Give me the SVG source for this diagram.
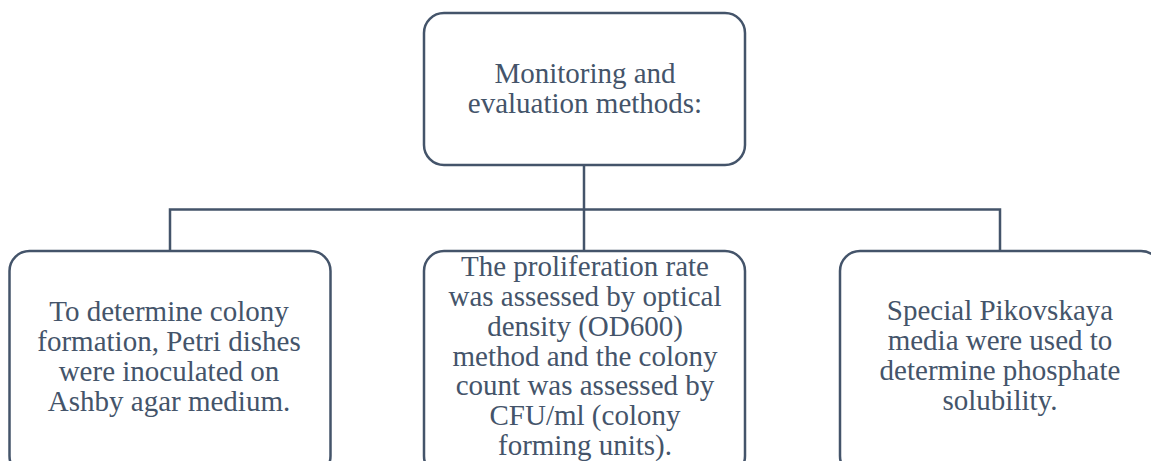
<svg xmlns="http://www.w3.org/2000/svg" width="1151" height="461" viewBox="0 0 1151 461">
<style>
.box{fill:#ffffff;stroke:#44546A;stroke-width:2.5}
.lbl{font-family:"Liberation Serif","Times New Roman",serif;font-size:29px;fill:#44546A;text-anchor:middle}
.conn{fill:none;stroke:#44546A;stroke-width:2.5}
</style>
<rect width="1151" height="461" fill="#ffffff"/>
<g id="connectors">
<path class="conn" d="M584,165 V210"/>
<path class="conn" d="M170,251 V209.5 H1000 V251"/>
<path class="conn" d="M584,209.5 V251"/>
</g>
<g id="top">
<rect class="box" x="424" y="13" width="321" height="152" rx="20"/>
<text class="lbl" x="585" y="83">Monitoring and</text>
<text class="lbl" x="585" y="113">evaluation methods:</text>
</g>
<g id="left">
<rect class="box" x="9.5" y="251" width="321" height="225" rx="20"/>
<text class="lbl" x="169" y="321">To determine colony</text>
<text class="lbl" x="169" y="351">formation, Petri dishes</text>
<text class="lbl" x="169" y="381">were inoculated on</text>
<text class="lbl" x="169" y="411">Ashby agar medium.</text>
</g>
<g id="middle">
<rect class="box" x="424" y="251" width="321" height="225" rx="20"/>
<text class="lbl" x="585" y="276">The proliferation rate</text>
<text class="lbl" x="585" y="306">was assessed by optical</text>
<text class="lbl" x="585" y="336">density (OD600)</text>
<text class="lbl" x="585" y="366">method and the colony</text>
<text class="lbl" x="585" y="395">count was assessed by</text>
<text class="lbl" x="585" y="425">CFU/ml (colony</text>
<text class="lbl" x="585" y="455">forming units).</text>
</g>
<g id="right">
<rect class="box" x="840" y="251" width="321" height="225" rx="20"/>
<text class="lbl" x="1000" y="320">Special Pikovskaya</text>
<text class="lbl" x="1000" y="350">media were used to</text>
<text class="lbl" x="1000" y="380">determine phosphate</text>
<text class="lbl" x="1000" y="410">solubility.</text>
</g>
</svg>
